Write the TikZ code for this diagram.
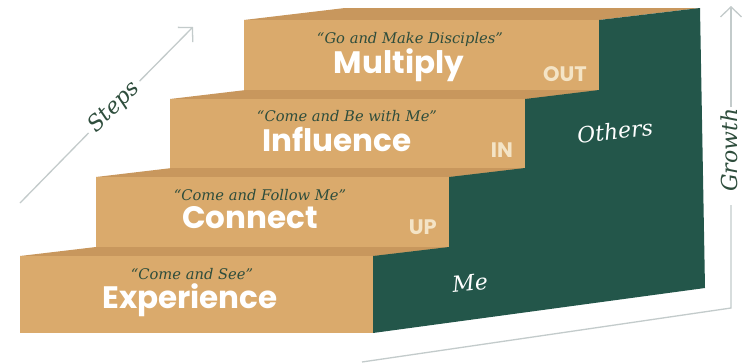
\documentclass[tikz,border=0pt]{standalone}
\usepackage{fontspec}
\newfontfamily\pop{Poppins}
\newfontfamily\dvs{DejaVu Serif}
\usetikzlibrary{arrows.meta}
\definecolor{tanF}{HTML}{DAAA6C}
\definecolor{tanT}{HTML}{C8975D}
\definecolor{grn}{HTML}{23564A}
\definecolor{qgrn}{HTML}{2E4D3C}
\definecolor{axisc}{HTML}{C3CBCB}
\definecolor{cream}{HTML}{F4E4C6}
\begin{document}
\begin{tikzpicture}[x=1pt,y=-1pt,
  front/.style={fill=tanF},
  topface/.style={fill=tanT},
  side/.style={fill=grn},
  quote/.style={font=\dvs\itshape\fontsize{14.7}{16}\selectfont, text=qgrn, inner sep=0pt, anchor=base},
  title/.style={font=\pop\bfseries\fontsize{31}{34}\selectfont, text=white, inner sep=0pt, anchor=base},
  dirlbl/.style={font=\pop\bfseries\fontsize{21}{24}\selectfont, text=cream, inner sep=0pt, anchor=base east},
  who/.style={font=\dvs\itshape\fontsize{22}{24}\selectfont, text=white, inner sep=0pt, rotate=6},
  axislbl/.style={font=\dvs\itshape\fontsize{22}{24}\selectfont, text=qgrn},
  axisline/.style={draw=axisc, line width=1.3pt},
  tipped/.style={-{Straight Barb[length=10pt,width=21pt]}}
]
\fill[white] (0,0) rectangle (745,362);
\useasboundingbox (0,0) rectangle (745,362);

% step 4
\fill[topface] (244,20) -- (345,8) -- (700,8) -- (599,20) -- cycle;
\fill[front] (244,20) rectangle (599,99);
% step 3
\fill[topface] (170,99) -- (246,90) -- (599,90) -- (525,99) -- cycle;
\fill[front] (170,99) rectangle (525,177);
% step 2
\fill[topface] (96,177) -- (172,168) -- (525,168) -- (449,177) -- cycle;
\fill[front] (96,177) rectangle (449,256);
% step 1
\fill[topface] (20,256) -- (96,247) -- (449,247) -- (373,256) -- cycle;
\fill[front] (20,256) rectangle (373,333);
% green side
\fill[side] (373,333) -- (373,256) -- (449,247) -- (449,177) -- (525,168) -- (525,99) -- (599,90) -- (599,20) -- (700,8) -- (705,288) -- cycle;

% texts
\node[quote] (q4) at (410,43) {“Go and Make Disciples”};
\node[title] (t4) at (399,73) {Multiply};
\node[dirlbl] (d4) at (587,81) {OUT};
\node[quote] (q3) at (347,121) {“Come and Be with Me”};
\node[title] (t3) at (337,151) {Influence};
\node[dirlbl] (d3) at (513,157) {IN};
\node[quote] (q2) at (260,200) {“Come and Follow Me”};
\node[title] (t2) at (250,228) {Connect};
\node[dirlbl] (d2) at (437,234) {UP};
\node[quote] (q1) at (192,279) {“Come and See”};
\node[title] (t1) at (190,308) {Experience};
\node[who] (others) at (615,131) {Others};
\node[who] (me) at (470,283) {Me};

% steps axis
\coordinate (stail) at (20,203);
\coordinate (stip) at (193,27);
\node[axislbl, rotate=45, inner xsep=5pt, inner ysep=0pt] (steps) at (114,107) {Steps};
\draw[axisline] (stail) -- (steps);
\draw[axisline, tipped] (steps) -- (stip);

% growth axis
\node[axislbl, rotate=90, inner sep=0pt] (growth) at (729,150) {Growth};
\coordinate (gtip) at (731,6);
\coordinate (gtop) at (731,107);
\coordinate (gbot) at (731,205);
\coordinate (gcorner) at (731,308);
\coordinate (gend) at (362,362);
\draw[axisline, tipped] (gtop) -- (gtip);
\draw[axisline] (gbot) -- (gcorner) -- (gend);
\end{tikzpicture}
\end{document}
